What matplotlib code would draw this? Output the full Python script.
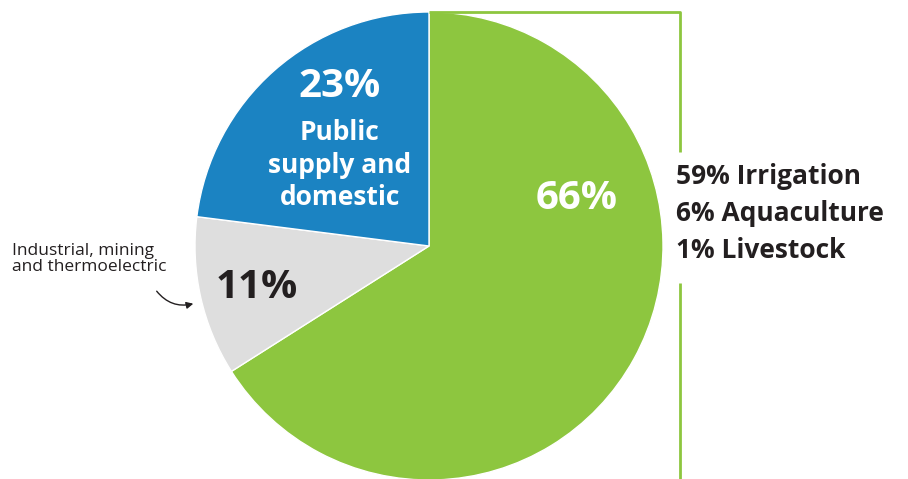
import matplotlib.pyplot as plt
from matplotlib.patches import FancyArrowPatch

# -----------------------------
# Data
# -----------------------------
categories = ["Agriculture", "Industrial, mining and thermoelectric", "Public supply and domestic"]
shares = [66, 11, 23]
colors = ["#8dc63f", "#dedede", "#1b83c2"]
ag_breakdown = ["59% Irrigation", "6% Aquaculture", "1% Livestock"]

plt.rcParams['font.family'] = ['Open Sans', 'DejaVu Sans']
dark = "#231f20"
W, H = 908, 479

fig = plt.figure(figsize=(W / 100, H / 100), dpi=100)
ax = fig.add_axes([0, 0, 1, 1])

cx, cy, r = 429, H - 246, 234
ax.pie(shares, colors=colors, startangle=90, counterclock=False,
       center=(cx, cy), radius=r, frame=True,
       wedgeprops=dict(edgecolor='white', linewidth=1))
ax.set_xlim(0, W)
ax.set_ylim(0, H)
ax.set_aspect('equal')
ax.axis('off')

# -----------------------------
# Labels
# -----------------------------
big = dict(fontsize=29, fontweight='bold', ha='center', va='center')
ax.text(340, H - 86, f"{shares[2]}%", color='white', **big)
ax.text(340, H - 165, "Public\nsupply and\ndomestic", color='white', fontsize=19,
        fontweight='bold', ha='center', va='center', linespacing=1.25)
ax.text(577, H - 198, f"{shares[0]}%", color='white', **big)
ax.text(257, H - 287, f"{shares[1]}%", color=dark, **big)
ax.text(12, H - 259, "Industrial, mining\nand thermoelectric", color=dark, fontsize=12.5,
        ha='left', va='center', linespacing=1.0)

arrow = FancyArrowPatch((155, H - 289), (196, H - 303),
                        connectionstyle="arc3,rad=0.35", arrowstyle='-|>',
                        mutation_scale=10, color=dark, lw=1)
ax.add_patch(arrow)

# Agriculture breakdown bracket
green = colors[0]
ax.plot([cx, 680, 680], [H - 12, H - 12, H - 152], color=green, lw=2, solid_capstyle='butt')
ax.plot([680, 680], [H - 283, 0], color=green, lw=2, solid_capstyle='butt')

for i, lab in enumerate(ag_breakdown):
    ax.text(676, H - 176 - i * 37.5, lab, color=dark, fontsize=19, fontweight='bold',
            ha='left', va='center')

fig.savefig("out.png", dpi=100)
